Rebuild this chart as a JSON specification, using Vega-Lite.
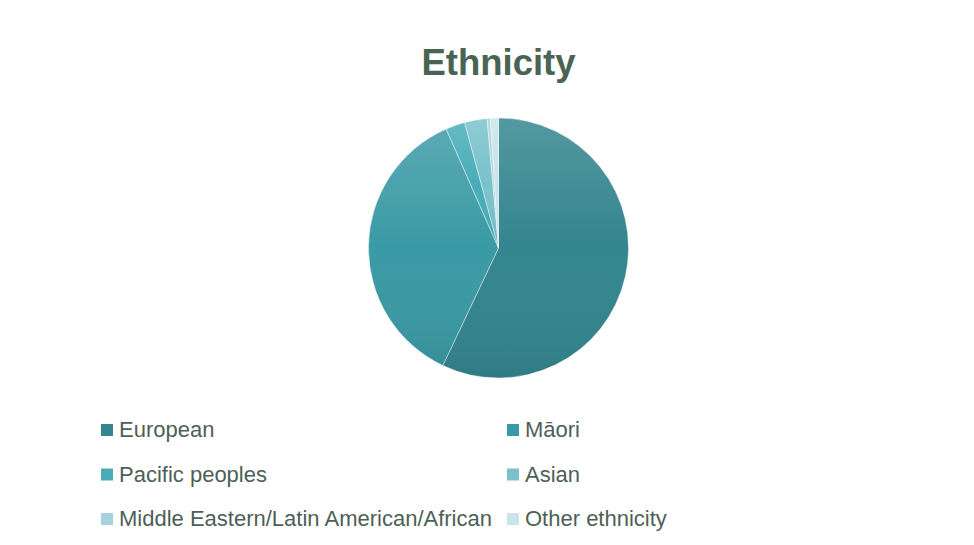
{
  "$schema": "https://vega.github.io/schema/vega-lite/v6.json",
  "width": 900,
  "height": 326,
  "autosize": {"type": "none"},
  "padding": {"left": 48.5, "top": 85, "right": 25.5, "bottom": 134},
  "background": "#ffffff",
  "config": {"view": {"stroke": null}},
  "title": {
    "text": "Ethnicity",
    "font": "Liberation Sans",
    "fontSize": 36.5,
    "fontWeight": "bold",
    "color": "#4a6454",
    "anchor": "middle",
    "orient": "top",
    "offset": 3
  },
  "data": {
    "values": [
      {"ethnicity": "European", "percent": 57.1, "order": 1},
      {"ethnicity": "Māori", "percent": 36.4, "order": 2},
      {"ethnicity": "Pacific peoples", "percent": 2.4, "order": 3},
      {"ethnicity": "Asian", "percent": 2.8, "order": 4},
      {"ethnicity": "Middle Eastern/Latin American/African", "percent": 0.4, "order": 5},
      {"ethnicity": "Other ethnicity", "percent": 1.0, "order": 6}
    ]
  },
  "layer": [
    {
      "mark": {"type": "arc", "outerRadius": 130, "stroke": "#ffffff", "strokeWidth": 0.6, "strokeOpacity": 0.7},
      "encoding": {
        "theta": {"field": "percent", "type": "quantitative", "stack": true},
        "order": {"field": "order", "type": "quantitative"},
        "color": {
          "field": "ethnicity",
          "type": "nominal",
          "sort": null,
          "scale": {
            "domain": ["European", "Māori", "Pacific peoples", "Asian", "Middle Eastern/Latin American/African", "Other ethnicity"],
            "range": ["#33858e", "#3a9aa5", "#48adb9", "#79c2cc", "#a6d3db", "#c9e4ea"]
          },
          "legend": {
            "title": null,
            "orient": "none",
            "legendX": 47.5,
            "legendY": 334,
            "direction": "horizontal",
            "columns": 2,
            "padding": 0,
            "rowPadding": 22.5,
            "columnPadding": 8,
            "symbolType": "square",
            "symbolSize": 144,
            "symbolStrokeWidth": 0,
            "symbolOpacity": 1,
            "labelFont": "Liberation Sans",
            "labelFontSize": 22,
            "labelColor": "#4d5f57",
            "labelOffset": 1,
            "labelLimit": 500
          }
        }
      }
    },
    {
      "mark": {
        "type": "arc",
        "outerRadius": 130,
        "fill": {
          "gradient": "linear",
          "x1": 0, "y1": 0, "x2": 0, "y2": 1,
          "stops": [
            {"offset": 0, "color": "rgba(255,255,255,0.16)"},
            {"offset": 0.5, "color": "rgba(255,255,255,0)"},
            {"offset": 1, "color": "rgba(0,0,0,0.07)"}
          ]
        }
      },
      "encoding": {
        "theta": {"field": "percent", "type": "quantitative", "stack": true},
        "order": {"field": "order", "type": "quantitative"}
      }
    }
  ]
}
